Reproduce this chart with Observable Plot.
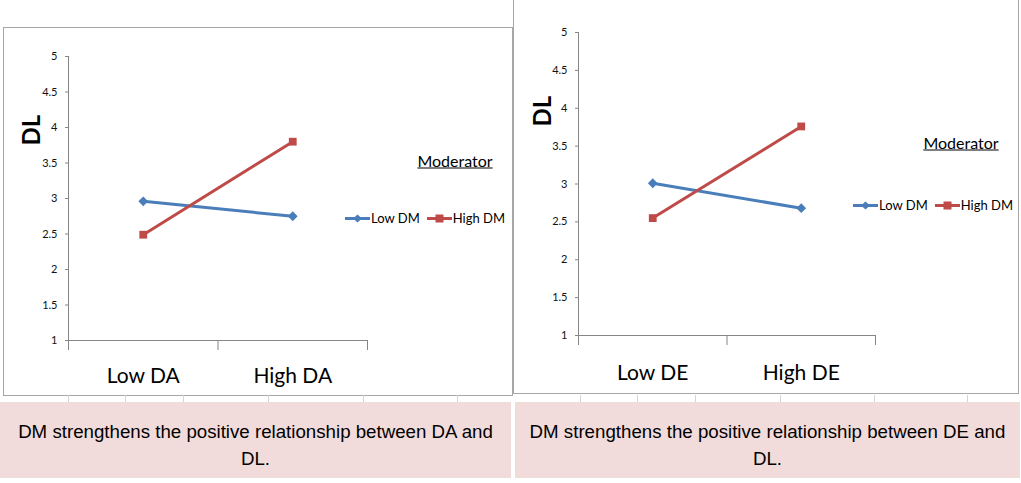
<!DOCTYPE html>
<html><head><meta charset="utf-8">
<script src="https://cdn.jsdelivr.net/npm/d3@7"></script>
<script src="https://cdn.jsdelivr.net/npm/@observablehq/plot@0.6"></script>
<style>
body{margin:0;width:1021px;height:483px;position:relative;background:#fff;overflow:hidden;font-family:Lato,sans-serif;}
.panel{position:absolute;box-sizing:border-box;border:1px solid #a6a6a6;background:#fff;}
.plot{position:absolute;}
.plot svg{display:block;}
.legend{position:absolute;font-family:Lato,sans-serif;color:#000;}
.mod{position:absolute;font-size:16px;text-decoration:underline;white-space:nowrap;transform:translate(-50%,-50%);}
.items{position:absolute;display:flex;align-items:center;white-space:nowrap;font-size:13px;transform:translateY(-50%);}
.items span{margin-right:7px;}
.items svg{display:block;}
.caption{position:absolute;top:402px;height:76px;background:#F2DCDB;font-family:"Liberation Sans",Arial,sans-serif;font-size:18.7px;line-height:27px;text-align:center;color:#000;box-sizing:border-box;padding:16px 12px 0 12px;}
.grid{position:absolute;top:395px;height:7px;width:1px;background:#d4d4d4;}
</style></head><body>
<script>
// ---- data ----
const series = ["Low DM", "High DM"];
const catsA = ["Low DA", "High DA"];
const lowDM_A = [2.96, 2.75];
const highDM_A = [2.49, 3.80];
const catsB = ["Low DE", "High DE"];
const lowDM_B = [3.01, 2.68];
const highDM_B = [2.55, 3.76];
const yTicks = [1, 1.5, 2, 2.5, 3, 3.5, 4, 4.5, 5];
const yLabel = "DL";
const legendTitle = "Moderator";
const captionA = "DM strengthens the positive relationship between DA and DL.";
const captionB = "DM strengthens the positive relationship between DE and DL.";

// ---- style ----
const colors = ["#4A7EBB", "#BE4B48"];
const symbols = ["diamond2", "square"];
const axisColor = "#868686";

function chart(cats, low, high, L) {
  const data = [];
  cats.forEach((c, i) => {
    data.push({cat: c, pos: i + 0.5, series: series[0], v: low[i]});
    data.push({cat: c, pos: i + 0.5, series: series[1], v: high[i]});
  });
  const bounds = d3.range(cats.length + 1);
  const centers = cats.map((c, i) => i + 0.5);
  return Plot.plot({
    width: L.width, height: L.height,
    marginLeft: L.ml, marginRight: L.mr, marginTop: L.mt, marginBottom: L.mb,
    x: {domain: [0, cats.length]},
    y: {domain: [1, 5]},
    color: {domain: series, range: colors},
    symbol: {domain: series, range: symbols},
    style: {background: "transparent", fontFamily: "Lato, sans-serif", overflow: "visible"},
    marks: [
      Plot.ruleX([0], {stroke: axisColor}),
      Plot.ruleY([1], {stroke: axisColor}),
      Plot.axisY({ticks: yTicks, tickSize: 3, tickPadding: 8, fontSize: 11, stroke: axisColor, fill: "#111", tickFormat: d => String(d), label: null}),
      Plot.axisX({ticks: bounds, tickSize: 10, tickFormat: () => "", stroke: axisColor, label: null}),
      Plot.axisX({ticks: centers, tickSize: 0, tickPadding: L.xpad, fontSize: 21, fill: "#000", tickFormat: d => cats[Math.round(d - 0.5)], label: null}),
      Plot.line(data, {x: "pos", y: "v", stroke: "series", z: "series", strokeWidth: 3}),
      Plot.dot(data, {x: "pos", y: "v", fill: "series", symbol: "series", r: 4.4, stroke: "none"}),
      Plot.text([yLabel], {text: d => d, frameAnchor: "top-left", dx: L.ldx, dy: L.ldy, rotate: -90, fontSize: 24, fontWeight: "bold", fill: "#000"})
    ]
  });
}

function place(el, left, top) {
  const w = document.createElement("div");
  w.className = "plot";
  w.style.left = left + "px"; w.style.top = top + "px";
  w.appendChild(el);
  document.body.appendChild(w);
}

function panel(left, top, width, height, noTop) {
  const d = document.createElement("div");
  d.className = "panel";
  Object.assign(d.style, {left: left + "px", top: top + "px", width: width + "px", height: height + "px"});
  if (noTop) d.style.borderTop = "none";
  document.body.appendChild(d);
}

function legend(modX, modY, itemsX, itemsY) {
  const m = document.createElement("div");
  m.className = "legend mod";
  m.style.left = modX + "px"; m.style.top = modY + "px";
  m.textContent = legendTitle;
  document.body.appendChild(m);
  const it = document.createElement("div");
  it.className = "legend items";
  it.style.left = itemsX + "px"; it.style.top = itemsY + "px";
  series.forEach((s, i) => {
    const sym = symbols[i] === "square"
      ? `<rect x="8.5" y="1.5" width="8" height="8" fill="${colors[i]}"/>`
      : `<path d="M12.5 1.5 L17 5.5 L12.5 9.5 L8 5.5 Z" fill="${colors[i]}"/>`;
    const sv = `<svg width="25" height="11"><line x1="0" x2="25" y1="5.5" y2="5.5" stroke="${colors[i]}" stroke-width="3"/>${sym}</svg>`;
    it.insertAdjacentHTML("beforeend", sv + `<span style="margin-left:1px">${s}</span>`);
  });
  document.body.appendChild(it);
}

function caption(left, width, text) {
  const c = document.createElement("div");
  c.className = "caption";
  c.style.left = left + "px"; c.style.width = width + "px";
  c.textContent = text;
  document.body.appendChild(c);
}

// panels
panel(3, 27, 510, 369, false);
panel(513, -1, 506, 395, true);

// spreadsheet grid fragments between panels and caption
[68, 125, 183, 268, 363, 457, 580, 637, 695, 780, 874, 967].forEach(x => {
  const g = document.createElement("div");
  g.className = "grid"; g.style.left = x + "px";
  document.body.appendChild(g);
});

place(chart(catsA, lowDM_A, highDM_A, {width: 509, height: 368, ml: 65, mr: 145, mt: 29, mb: 55, xpad: 28, ldx: -46, ldy: 89}), 3, 27);
place(chart(catsB, lowDM_B, highDM_B, {width: 505, height: 393, ml: 65, mr: 143, mt: 32, mb: 58, xpad: 30, ldx: -45, ldy: 94}), 513, 0);

legend(455, 160, 345, 218);
legend(961, 142, 853, 205);

caption(0, 511, captionA);
caption(515, 505, captionB);
</script>
</body></html>
